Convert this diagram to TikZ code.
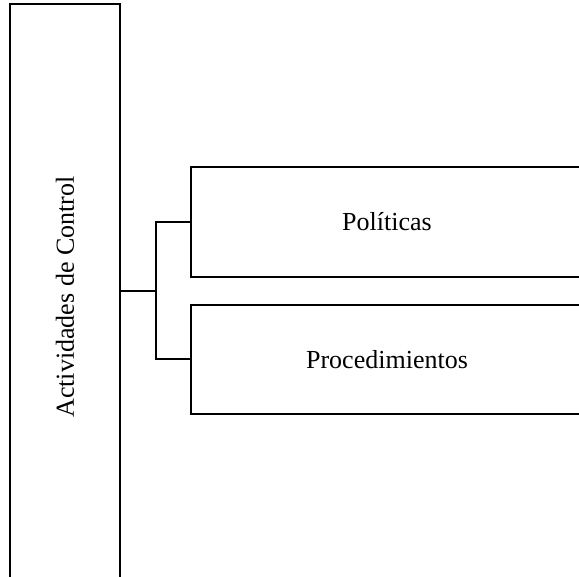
\documentclass[tikz,border=0pt]{standalone}
\usepackage{fontspec}
\setmainfont{Liberation Serif}
\usetikzlibrary{calc}

\begin{document}
\begin{tikzpicture}[
        x=0.5pt, y=-0.5pt,
        box/.style={draw, line width=1pt, inner sep=0pt,
          font=\fontsize{13}{15}\selectfont},
        link/.style={line width=1pt}
      ]

      \useasboundingbox (0,0) rectangle (579,577);

      % left column
      \node[box, minimum width=55pt, minimum height=293pt] (actividades)
        at (65,297) {\rotatebox{90}{Actividades de Control}};

      % right boxes
      \node[box, minimum width=196pt, minimum height=55pt] (politicas)
        at (387,222) {Políticas};
      \node[box, minimum width=196pt, minimum height=54.5pt] (procedimientos)
        at (387,359.5) {Procedimientos};

      % bracket
      \coordinate (fork) at (156,291);
      \draw[link] (actividades.east |- fork) -- (fork);
      \draw[link] (fork) |- (politicas.west);
      \draw[link] (fork) |- (procedimientos.west);
    \end{tikzpicture}
\end{document}
